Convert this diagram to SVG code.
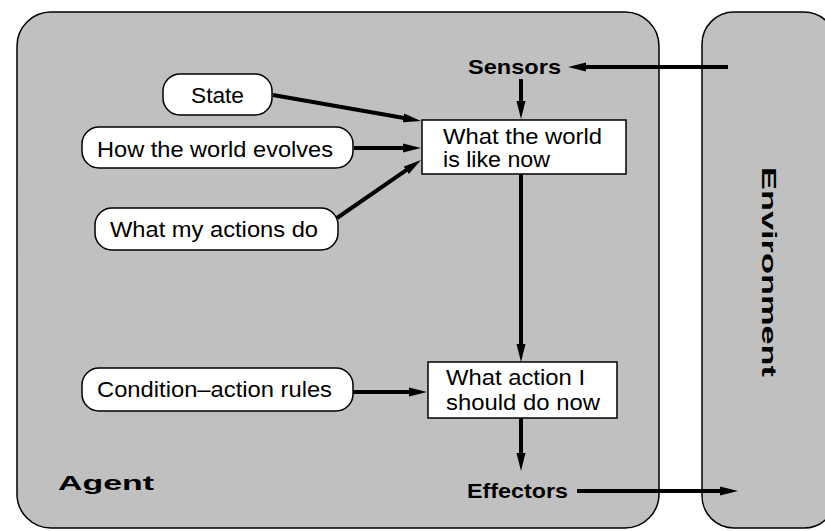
<svg xmlns="http://www.w3.org/2000/svg" width="825" height="531" viewBox="0 0 825 531">
<style>
.panel{fill:#c0c0c0;stroke:#000;stroke-width:1.5}
.pill{fill:#fff;stroke:#000;stroke-width:1.5}
.box{fill:#fff;stroke:#000;stroke-width:1.5}
.t{font-family:"Liberation Sans",Arial,sans-serif;font-size:22px;fill:#000}
.b{font-family:"Liberation Sans",Arial,sans-serif;font-weight:bold;font-size:21px;fill:#000}
.c{fill:none;stroke:#000;stroke-width:4;marker-end:url(#ah)}
</style>
<defs>
<marker id="ah" viewBox="0 0 18 10" markerWidth="18" markerHeight="10" refX="8" refY="5" orient="auto" markerUnits="userSpaceOnUse">
<path d="M0,0.5 L18,5 L0,9.5 Z" fill="#000"/>
</marker>
</defs>
<rect width="825" height="531" fill="#fff"/>
<g id="agent">
<rect class="panel" x="17" y="12" width="642" height="516" rx="34" ry="34"/>
<text class="b" x="58" y="490" font-size="34" textLength="96" lengthAdjust="spacingAndGlyphs">Agent</text>
</g>
<g id="environment">
<rect class="panel" x="702" y="12" width="134" height="516" rx="32" ry="32"/>
<text class="b" transform="translate(762,167) rotate(90)" font-size="34" textLength="210" lengthAdjust="spacingAndGlyphs">Environment</text>
</g>
<g id="sensors">
<text class="b" x="468" y="74" textLength="93" lengthAdjust="spacingAndGlyphs">Sensors</text>
</g>
<g id="effectors">
<text class="b" x="467" y="498" textLength="101" lengthAdjust="spacingAndGlyphs">Effectors</text>
</g>
<g id="state">
<rect class="pill" x="163" y="74" width="109" height="41" rx="17" ry="17"/>
<text class="t" x="191" y="103" textLength="53" lengthAdjust="spacingAndGlyphs">State</text>
</g>
<g id="how-world-evolves">
<rect class="pill" x="82" y="127" width="271" height="41" rx="17" ry="17"/>
<text class="t" x="97" y="157" textLength="236" lengthAdjust="spacingAndGlyphs">How the world evolves</text>
</g>
<g id="what-my-actions-do">
<rect class="pill" x="95" y="208" width="243" height="42" rx="17" ry="17"/>
<text class="t" x="110" y="237" textLength="208" lengthAdjust="spacingAndGlyphs">What my actions do</text>
</g>
<g id="condition-action-rules">
<rect class="pill" x="82" y="368" width="271" height="43" rx="17" ry="17"/>
<text class="t" x="97" y="397" textLength="235" lengthAdjust="spacingAndGlyphs">Condition–action rules</text>
</g>
<g id="world-now">
<rect class="box" x="422" y="120" width="204" height="54"/>
<text class="t" x="443" y="144" textLength="159" lengthAdjust="spacingAndGlyphs">What the world</text>
<text class="t" x="443" y="167" textLength="107" lengthAdjust="spacingAndGlyphs">is like now</text>
</g>
<g id="action-now">
<rect class="box" x="428" y="362" width="189" height="56"/>
<text class="t" x="446" y="385" textLength="139" lengthAdjust="spacingAndGlyphs">What action I</text>
<text class="t" x="446" y="410" textLength="154" lengthAdjust="spacingAndGlyphs">should do now</text>
</g>
<g id="connectors">
<path class="c" d="M728,67 L578,67"/>
<path class="c" d="M521,79 L521,109"/>
<path class="c" d="M273,95 L411.2,119.3"/>
<path class="c" d="M354,148 L411,148"/>
<path class="c" d="M337,218 L412.8,165.7"/>
<path class="c" d="M521,174 L521,352"/>
<path class="c" d="M353,392 L417,392"/>
<path class="c" d="M521,418 L521,461"/>
<path class="c" d="M577,491 L728,491"/>
</g>
</svg>
